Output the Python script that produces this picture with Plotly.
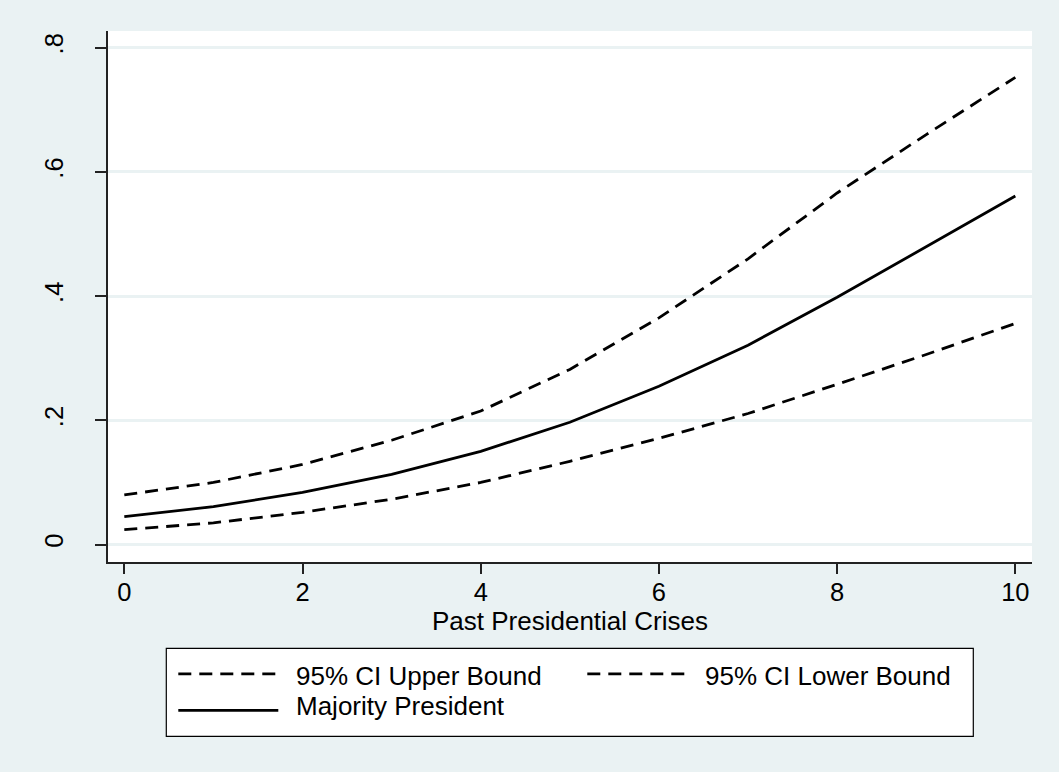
import plotly.graph_objects as go

crises = [0, 1, 2, 3, 4, 5, 6, 7, 8, 9, 10]
upper = [0.080, 0.100, 0.129, 0.168, 0.215, 0.282, 0.365, 0.460, 0.566, 0.660, 0.752]
majority = [0.045, 0.061, 0.084, 0.113, 0.150, 0.197, 0.255, 0.321, 0.398, 0.480, 0.561]
lower = [0.024, 0.035, 0.052, 0.073, 0.100, 0.134, 0.171, 0.211, 0.258, 0.306, 0.356]

series_names = ["95% CI Upper Bound", "95% CI Lower Bound", "Majority President"]
x_title = "Past Presidential Crises"
xticks = [0, 2, 4, 6, 8, 10]
yticks = [0, 0.2, 0.4, 0.6, 0.8]
yticklabels = ["0", ".2", ".4", ".6", ".8"]

BG = "#EAF2F3"
FONT = "Liberation Sans, Arial, sans-serif"
DASH = "13px,8px"
LW = 2.8

# plot-area geometry in pixels (figure 1059 x 772)
W, H = 1059, 772
L, R, T, B = 107.7, 1031.7, 30.7, 561.7


def px(xp):
    return (xp - L) / (R - L)


def py(yp):
    return (B - yp) / (B - T)


fig = go.Figure()
fig.add_trace(go.Scatter(x=crises, y=upper, mode="lines", name=series_names[0],
                         line=dict(color="black", width=LW, dash=DASH)))
fig.add_trace(go.Scatter(x=crises, y=lower, mode="lines", name=series_names[1],
                         line=dict(color="black", width=LW, dash=DASH)))
fig.add_trace(go.Scatter(x=crises, y=majority, mode="lines", name=series_names[2],
                         line=dict(color="black", width=LW)))

# legend box (drawn as decoration, Stata style with long line samples)
shapes = [dict(type="rect", xref="paper", yref="paper",
               x0=px(166), x1=px(973), y0=py(736), y1=py(648),
               line=dict(color="black", width=1.2), fillcolor="white", layer="above")]
entries = [
    (178, 278, 294, 673.5, 676, DASH, series_names[0]),
    (587, 687, 703, 673.5, 676, DASH, series_names[1]),
    (178, 278, 294, 710, 705.5, "solid", series_names[2]),
]
annotations = []
for x0, x1, xt, yl, yt, dash, label in entries:
    shapes.append(dict(type="line", xref="paper", yref="paper",
                       x0=px(x0), x1=px(x1), y0=py(yl), y1=py(yl),
                       line=dict(color="black", width=LW, dash=dash), layer="above"))
    annotations.append(dict(text=label, xref="paper", yref="paper", x=px(xt), y=py(yt),
                            xanchor="left", yanchor="middle", showarrow=False,
                            font=dict(family=FONT, size=26, color="black")))

# x-axis title
annotations.append(dict(text=x_title, xref="paper", yref="paper", x=0.5, y=py(621),
                        xanchor="center", yanchor="middle", showarrow=False,
                        font=dict(family=FONT, size=26, color="black")))

fig.update_layout(
    width=W, height=H,
    margin=dict(l=L, r=W - R, t=T, b=H - B, pad=0),
    paper_bgcolor=BG, plot_bgcolor="white",
    font=dict(family=FONT, size=25.5, color="black"),
    showlegend=False,
    shapes=shapes,
    annotations=annotations,
    xaxis=dict(range=[-0.183, 10.187], tickvals=xticks, ticks="outside", ticklen=10,
               tickwidth=1.5, tickcolor="#222", showline=True, linecolor="#222", linewidth=1.5,
               showgrid=False, zeroline=False, tickfont=dict(size=25.5),
               ticklabelstandoff=-3),
    yaxis=dict(range=[-0.028, 0.8267], tickvals=yticks, ticktext=yticklabels,
               ticks="outside", ticklen=11, tickwidth=1.5, tickcolor="#222", tickangle=-90,
               showline=True, linecolor="#222", linewidth=1.5, tickfont=dict(size=25.5),
               ticklabelstandoff=22,
               showgrid=True, gridcolor=BG, gridwidth=2.5, zeroline=False),
)

fig.write_html("out.html", config={"displayModeBar": False},
               post_script="document.body.style.margin='0';")
